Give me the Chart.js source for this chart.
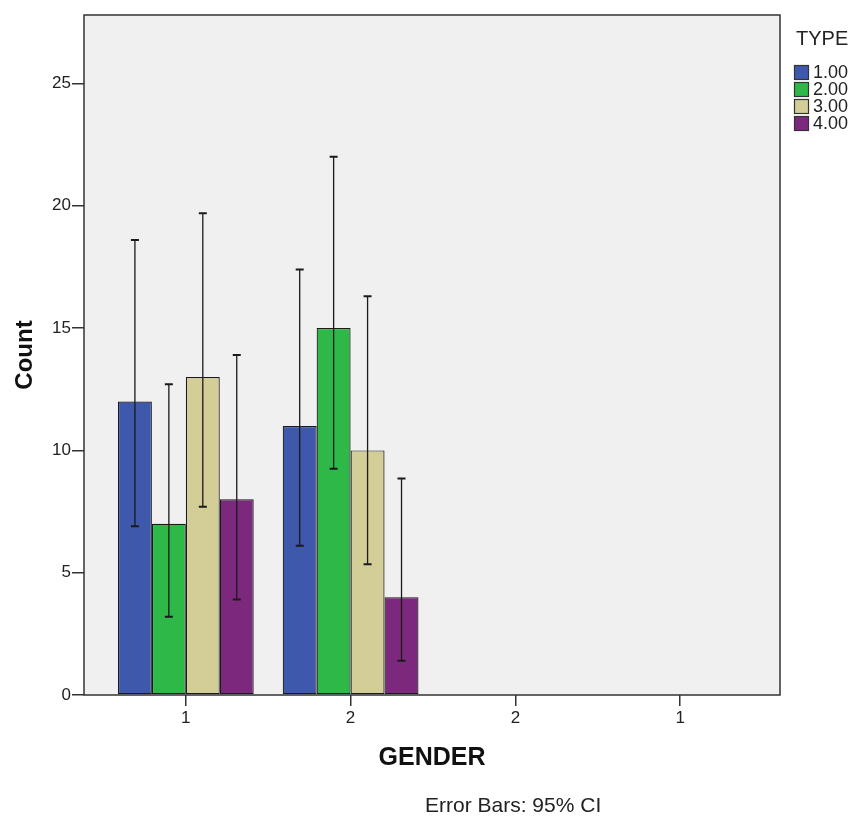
<!DOCTYPE html>
<html>
<head>
<meta charset="utf-8">
<script src="https://cdn.jsdelivr.net/npm/chart.js@4.4.1/dist/chart.umd.min.js"></script>
<style>
  body { margin: 0; background: #fff; }
</style>
</head>
<body>
<canvas id="bars" width="853" height="816"></canvas>
<script>
// categories on the x axis (SPSS printed the same codes twice)
var gender_pos = [1, 2, 3, 4];
var gender_labels = ['1', '2', '2', '1'];

var type_names = ['1.00', '2.00', '3.00', '4.00'];
var type_colors = ['#3E58AC', '#2EB848', '#D3CE97', '#7C287D'];

// counts per type, for gender positions 1 and 2
var type1 = [12, 11];
var type2 = [7, 15];
var type3 = [13, 10];
var type4 = [8, 4];

// 95% CI bounds
var lo1 = [6.9, 6.1];
var hi1 = [18.6, 17.4];
var lo2 = [3.2, 9.25];
var hi2 = [12.7, 22.0];
var lo3 = [7.7, 5.35];
var hi3 = [19.7, 16.3];
var lo4 = [3.9, 1.4];
var hi4 = [13.9, 8.85];

var y_ticks = [0, 5, 10, 15, 20, 25];
var note = 'Error Bars: 95% CI';

var counts = [type1, type2, type3, type4];
var lows = [lo1, lo2, lo3, lo4];
var highs = [hi1, hi2, hi3, hi4];

var FONT = '"Liberation Sans", Arial, sans-serif';

function make_datasets() {
    var sets = [];
    for (var t = 0; t < counts.length; t++) {
        var pts = [];
        for (var i = 0; i < counts[t].length; i++) {
            pts.push({x: gender_pos[i], y: counts[t][i]});
        }
        sets.push({
            label: type_names[t],
            data: pts,
            backgroundColor: type_colors[t],
            borderColor: '#1a1a1a',
            borderWidth: 1.2,
            borderSkipped: false,
            categoryPercentage: 0.824,
            barPercentage: 1.0
        });
    }
    return sets;
}

var plotFrame = {
    id: 'plotFrame',
    beforeDraw: function(chart) {
        var a = chart.chartArea, ctx = chart.ctx;
        ctx.save();
        ctx.fillStyle = '#F0F0F0';
        ctx.fillRect(a.left, a.top, a.right - a.left, a.bottom - a.top);
        ctx.restore();
    },
    afterDatasetsDraw: function(chart) {
        var ctx = chart.ctx, y = chart.scales.y;
        ctx.save();
        ctx.strokeStyle = '#1a1a1a';
        chart.data.datasets.forEach(function(ds, t) {
            var meta = chart.getDatasetMeta(t);
            meta.data.forEach(function(bar, i) {
                var top = y.getPixelForValue(highs[t][i]);
                var bot = y.getPixelForValue(lows[t][i]);
                ctx.lineWidth = 1.3;
                ctx.beginPath();
                ctx.moveTo(bar.x, top);
                ctx.lineTo(bar.x, bot);
                ctx.stroke();
                ctx.lineWidth = 2;
                ctx.beginPath();
                ctx.moveTo(bar.x - 4, top); ctx.lineTo(bar.x + 4, top);
                ctx.moveTo(bar.x - 4, bot); ctx.lineTo(bar.x + 4, bot);
                ctx.stroke();
            });
        });
        ctx.restore();
    },
    afterDraw: function(chart) {
        var a = chart.chartArea, ctx = chart.ctx;
        ctx.save();
        ctx.strokeStyle = '#333';
        ctx.lineWidth = 1.5;
        ctx.strokeRect(a.left, a.top, a.right - a.left, a.bottom - a.top);

        // legend
        var lx = a.right + 14;
        ctx.fillStyle = '#222';
        ctx.font = '20px ' + FONT;
        ctx.textBaseline = 'middle';
        ctx.textAlign = 'left';
        ctx.fillText('TYPE', lx + 2, a.top + 24);
        ctx.font = '18px ' + FONT;
        chart.data.datasets.forEach(function(ds, t) {
            var cy = a.top + 57.5 + t * 17;
            ctx.fillStyle = ds.backgroundColor;
            ctx.fillRect(lx, cy - 7.5, 15, 15);
            ctx.strokeStyle = '#333';
            ctx.lineWidth = 1.2;
            ctx.strokeRect(lx + 0.5, cy - 7, 14, 14);
            ctx.fillStyle = '#222';
            ctx.fillText(ds.label, lx + 19, cy + 1);
        });

        ctx.font = '21px ' + FONT;
        ctx.textBaseline = 'alphabetic';
        ctx.fillText(note, 425, 812);
        ctx.restore();
    }
};

new Chart(document.getElementById('bars'), {
    type: 'bar',
    data: { datasets: make_datasets() },
    plugins: [plotFrame],
    options: {
        responsive: false,
        animation: false,
        layout: { padding: { top: 15, right: 73, bottom: 0, left: 0 } },
        plugins: { legend: { display: false }, tooltip: { enabled: false } },
        scales: {
            x: {
                type: 'linear',
                offset: false,
                min: 0.382,
                max: 4.606,
                afterBuildTicks: function(s) {
                    s.ticks = gender_pos.map(function(v) { return {value: v}; });
                },
                afterFit: function(s) { s.height = 121; },
                ticks: {
                    callback: function(v) { return gender_labels[gender_pos.indexOf(v)]; },
                    color: '#222',
                    font: { family: FONT, size: 17 },
                    padding: 2,
                    maxRotation: 0
                },
                grid: { offset: false, drawOnChartArea: false, drawTicks: true, tickLength: 11, color: '#333', lineWidth: 1.5 },
                border: { display: false },
                title: {
                    display: true,
                    text: 'GENDER',
                    color: '#111',
                    font: { family: FONT, size: 25, weight: 'bold' },
                    padding: { top: 0, bottom: 43 }
                }
            },
            y: {
                min: 0,
                max: 27.8,
                afterBuildTicks: function(s) {
                    s.ticks = y_ticks.map(function(v) { return {value: v}; });
                },
                afterFit: function(s) { s.width = 84; },
                ticks: {
                    color: '#222',
                    font: { family: FONT, size: 17 },
                    padding: 1
                },
                grid: { drawOnChartArea: false, drawTicks: true, tickLength: 12, color: '#333', lineWidth: 1.5 },
                border: { display: false },
                title: {
                    display: true,
                    text: 'Count',
                    color: '#111',
                    font: { family: FONT, size: 24, weight: 'bold' },
                    padding: { top: 11, bottom: 0 }
                }
            }
        }
    }
});
</script>
</body>
</html>
